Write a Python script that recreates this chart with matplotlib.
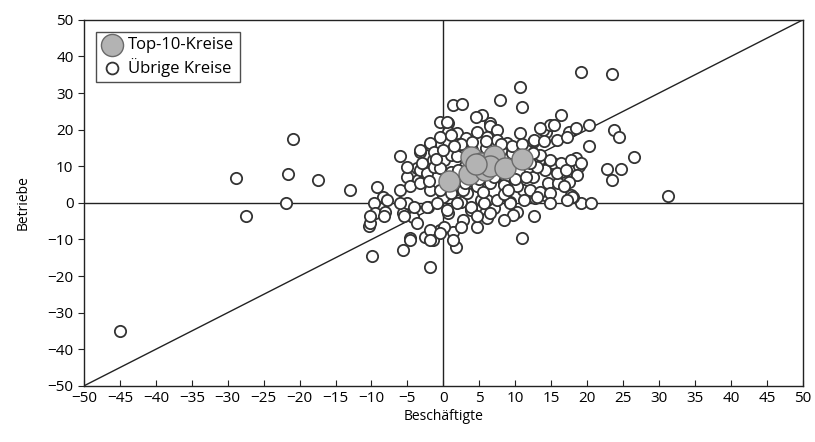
import matplotlib
matplotlib.use("Agg")
import matplotlib.pyplot as plt

plt.rcParams['font.family'] = ['Open Sans', 'DejaVu Sans']

# Top-10-Kreise (Beschäftigte, Betriebe)
top_x = [0.8, 3.5, 3.8, 5.3, 5.8, 7.0, 6.5, 8.6, 10.9, 4.5]
top_y = [6.0, 8.0, 12.5, 11.0, 9.0, 12.8, 10.0, 9.5, 12.0, 10.5]

# Übrige Kreise
other_x = [
    -45, -28.8, -27.4, -20.9, -21.6, -21.9, -17.4, -13, -10.4, -9.9,
    19.2, 23.5, 31.2, 26.5, 23.8, 24.5, 20.2, 20.2, 22.8, 24.7,
    23.5, 19.1, 20.6, 16.3, 14.3, 17.5, 18.4, 18.4, 18.8, 18.6,
    17.5, 18.0, 16.3, 16.0, 14.6, 14.2,
    10.6, 7.9, 11.0, 10.7, 13.9, 14.9, 12.5, 15.2, 16.7, 14.2, 6.5, 5.4,
    -6.0, 1.4, 2.6, -0.4, 0.7, 0.7, 1.9, 4.7, -3.2, -1.8, -0.4, -3.6,
    -1.5, 3.3, 2.4, -5.0,
    -9.2, -8.4, -9.7, -9.5, -8.1, -10.2, -5.6, -6.0, -5.0, -3.5, -1.8,
    -2.2, -4.2, -4.6, -5.6, -1.5, -2.5, -1.8, -0.4, 1.4, 1.7, 4.7, 2.8,
    0.6, 2.4, 3.8, 5.8, 5.2, 0.0, 1.4, 3.3, -3.2,
    11.0, 8.4, 11.1, 9.3, 10.3, 9.7, 6.1, 7.0, 12.8, 17.7, 15.9, 12.5, 6.1,
    0.5, 4.5, 6.5, 7.5, 13.5, 15.4,
    -1.8, -0.4, 1.0, 3.1, 6.1, 7.5, 8.9, 12.6, 14.0, 15.8, 17.2,
    -3.2, -1.3, 0.05, 1.0, 1.9, 12.4, 13.3, 14.9, 16.3, 17.7, 19.1,
    -5.1, -2.3, -1.3, 13.0, 15.8, 17.0,
    -4.6, -3.2, -0.4, 1.0, 2.8, 4.7, 6.5, 8.4, 10.3, 12.1, 13.5, 14.9,
    16.8, 17.9,
    -7.8, -6.0, -4.1, -2.3, -0.9, 0.5, 1.9, 3.8, 5.6, 7.5, 9.3, 11.2,
    13.0, 14.9, 17.2,
    -10.2, -8.3, -5.5, -3.7, -1.8, 0.05, 2.4, 4.7, 6.5, 8.4, 12.6,
    -4.6, -1.8, -0.4, 1.4,
    2.0, 3.0, 5.0, 7.0, 9.0, 10.5, 12.0, 9.5, 8.0, 6.0, 4.0, -0.5,
    1.0, -2.0, 11.5, 13.5,
    2.5, 4.0, 6.0, 8.0, 9.5, 11.0, 12.5, 3.0, 5.5, 8.5, 10.0, 1.5,
    -1.0, -3.0, 0.0, 2.0, 9.0, 11.5,
]
other_y = [
    -35, 6.8, -3.6, 17.5, 7.9, 0.0, 6.3, 3.6, -6.3, -14.5,
    35.8, 35.2, 1.9, 12.6, 20.0, 18.0, 21.3, 15.6, 9.3, 9.3,
    6.3, 0.0, 0.0, 24.0, 19.4, 19.4, 20.5, 12.3, 10.1, 7.7,
    5.7, 1.6, 8.5, 10.4, 5.5, 2.2,
    31.7, 28.1, 26.2, 19.1, 19.9, 21.3, 16.7, 10.9, 9.6, 9.0, 21.9, 24.0,
    12.8, 26.8, 27.0, 22.1, 21.9, 19.4, 19.1, 19.4, 13.9, 15.8, 12.3, 9.6,
    11.7, 16.7, 14.5, 7.1,
    4.4, 1.6, 0.0, -2.7, -2.5, -5.5, -2.7, 3.6, 0.0, 6.3, 3.6,
    -1.1, -3.8, -9.6, -12.8, -10.1, -9.3, -17.5, -7.4, -7.9, -12.0, -6.6, -4.6,
    -2.7, 0.3, -1.9, -2.7, 0.8, 1.6, 4.4, 2.7, 9.0,
    -9.6, 5.5, 3.6, 0.3, -2.5, -3.3, -4.1, -1.4, 1.4, 2.2, 5.5, 7.1, 0.8,
    22.2, 23.6, 20.9, 19.9, 20.4, 21.3,
    16.3, 18.1, 18.6, 17.7, 18.1, 17.2, 16.3, 17.2, 16.8, 17.2, 18.1,
    14.5, 14.0, 11.7, 13.1, 12.7, 14.0, 11.7, 11.7, 10.8, 11.7, 10.8,
    9.9, 8.1, 9.9, 9.9, 8.1, 9.0,
    4.5, 5.4, 3.6, 2.6, 3.6, 4.5, 5.4, 4.9, 4.5, 3.6, 3.1, 2.6,
    4.5, 1.7,
    0.8, -0.1, -1.0, -1.0, -0.1, -1.9, -0.1, -1.0, -0.1, 0.8, -0.1, 0.8,
    1.7, -0.1, 0.8,
    -3.7, -3.7, -3.7, -5.6, -7.4, -6.5, -6.5, -3.7, -2.8, -4.6, -3.7,
    -10.1, -10.1, -8.3, -10.1,
    7.5, 5.5, 6.5, 7.0, 7.5, 8.5, 11.0, 13.5, 14.5, 15.0, 14.5, 9.5,
    8.5, 6.0, 14.5, 13.0,
    16.0, 16.5, 17.0, 16.0, 15.5, 16.0, 13.5, 10.0, 3.0, 2.5, 6.5, 15.5,
    12.0, 11.0, 14.5, 9.0, 3.5, 7.0,
]

fig = plt.figure(figsize=(8.15, 4.42), dpi=100)
ax = fig.add_axes([0.103, 0.127, 0.882, 0.828])

ax.plot([-50, 50], [-50, 50], color='#222222', lw=1.0, zorder=1)
ax.axhline(0, color='#222222', lw=1.0, zorder=1)
ax.axvline(0, color='#222222', lw=1.0, zorder=1)

ax.scatter(other_x, other_y, s=66, facecolor='white', edgecolor='#333333',
           linewidth=1.3, zorder=2, label='Übrige Kreise')
ax.scatter(top_x, top_y, s=230, facecolor='#b3b3b3', edgecolor='#6a6a6a',
           linewidth=1.0, zorder=3, label='Top-10-Kreise')

ax.set_xlim(-50, 50)
ax.set_ylim(-50, 50)
ax.set_xticks(range(-50, 51, 5))
ax.set_yticks(range(-50, 51, 10))
ax.tick_params(axis='x', direction='in', length=4, labelsize=11, color='#222222')
ax.tick_params(axis='y', direction='out', length=4, labelsize=11, color='#222222')
for sp in ax.spines.values():
    sp.set_color('#222222')
    sp.set_linewidth(1.0)

ax.set_xlabel('Beschäftigte', fontsize=10, labelpad=2)
ax.set_ylabel('Betriebe', fontsize=10, labelpad=12)

handles, labels = ax.get_legend_handles_labels()
leg = ax.legend(handles[::-1], labels[::-1], loc='upper left', fontsize=12,
                frameon=True, fancybox=False, edgecolor='#222222',
                borderpad=0.35, handletextpad=0.3, labelspacing=0.25,
                handlelength=1.3, borderaxespad=0.7, markerscale=1.05)
leg.get_frame().set_linewidth(1.0)

fig.savefig('out.png', dpi=100)
